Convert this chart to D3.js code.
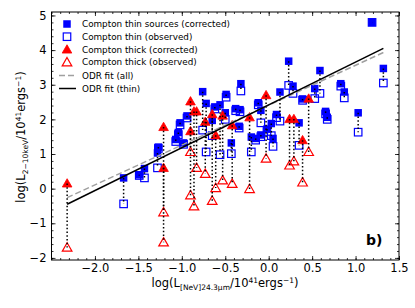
<!DOCTYPE html>
<html>
<head>
<meta charset="utf-8">
<script src="https://cdn.jsdelivr.net/npm/d3@7"></script>
<style>
  body { margin: 0; background: #fff; }
  svg { display: block; font-family: "DejaVu Sans", sans-serif; }
</style>
</head>
<body>
<div id="chart"></div>
<script>
// Compton thin sources: x, corrected and observed 2-10 keV luminosity
var thinX = [-1.67, -1.49, -1.43, -1.28, -1.27, -1.07, -1.04, -1.02, -0.98, -0.94,
  -0.76, -0.72, -0.65, -0.62, -0.56, -0.50, -0.49, -0.43, -0.38, -0.33,
  -0.32, -0.34, -0.12, -0.09, -0.20, -0.15, -0.09, 0.05, 0.03, 0.09,
  -0.02, 0.13, 0.23, 0.28, 0.35, 0.39, 0.53, 0.59, 0.655, 0.674,
  0.83, 0.87, 1.03, 1.19, 1.32];
var thinCorrected = [0.31, 0.40, 0.58, 1.03, 1.20, 1.42, 1.62, 1.90, 1.32, 2.10,
  2.80, 2.46, 1.97, 2.36, 2.42, 2.19, 2.72, 1.32, 2.31, 2.28,
  3.03, 1.80, 2.48, 2.26, 1.49, 1.45, 1.55, 1.45, 1.88, 2.14,
  1.72, 2.79, 3.68, 2.96, 1.90, 2.59, 2.89, 3.41, 2.23, 2.06,
  3.03, 2.79, 2.19, 4.80, 3.47];
var thinObserved = [-0.44, 0.38, 0.31, 0.60, 1.16, 1.36, 1.56, 1.84, 1.28, 2.04,
  1.69, 1.06, 1.53, 2.30, 0.98, 2.00, 2.64, 1.01, 2.25, 2.22,
  2.82, 1.75, 2.42, 1.90, 1.06, 1.40, 1.50, 1.22, 1.53, 2.05,
  1.65, 1.95, 2.98, 2.75, 1.25, 2.55, 2.60, 2.75, 2.16, 2.00,
  2.96, 2.62, 1.63, 4.80, 3.05];

// Compton thick sources
var thickX = [-2.32, -1.21, -1.21, -0.90, -0.90, -0.86, -0.83, -0.73, -0.65, -0.61,
  -0.53, -0.42, -0.22, -0.03, 0.24, 0.29, 0.39, 0.46];
var thickCorrected = [0.15, 1.78, 0.60, 2.52, 1.66, 2.23, 2.23, 1.93, 2.15, 1.54,
  2.11, 1.83, 2.06, 2.70, 2.01, 2.01, 1.40, 2.60];
var thickObserved = [-1.70, -0.68, -1.55, -0.19, 1.06, -0.51, 0.60, 0.43, -0.35, 0.02,
  0.24, 0.14, -0.01, 0.87, 0.67, 0.79, 0.18, 1.06];

// ODR fits, end points
var fitX = [-2.32, 1.32];
var fitAll = [-0.26, 3.93];
var fitThin = [-0.45, 4.05];

var xTicks = [-2.0, -1.5, -1.0, -0.5, 0.0, 0.5, 1.0, 1.5];
var yTicks = [-2, -1, 0, 1, 2, 3, 4, 5];

var legendLabels = [
  "Compton thin sources (corrected)",
  "Compton thin (observed)",
  "Compton thick (corrected)",
  "Compton thick (observed)",
  "ODR fit (all)",
  "ODR fit (thin)"
];

var width = 415;
var height = 308;
var blue = "#0000ff";
var red = "#ff0000";

function zip(xs, a, b) {
  return xs.map(function (x, i) {
    return { x: x, hi: a[i], lo: b[i] };
  });
}

draw();

function draw() {
  var thin = zip(thinX, thinCorrected, thinObserved);
  var thick = zip(thickX, thickCorrected, thickObserved);

  var svg = d3
    .select("#chart")
    .append("svg")
    .attr("width", width)
    .attr("height", height);

  var xScale = d3.scaleLinear().domain([-2.5, 1.5]).range([51.5, 399]);
  var yScale = d3.scaleLinear().domain([-2.06, 5.1]).range([260, 12]);

  var x0 = xScale.range()[0], x1 = xScale.range()[1];
  var y0 = yScale.range()[0], y1 = yScale.range()[1];

  // axes with inward ticks on all four sides
  var fmtX = function (d) { return d3.format(".1f")(d).replace("-", "\u2212"); };
  var fmtY = function (d) { return d3.format("d")(d).replace("-", "\u2212"); };
  var xMinor = d3.range(-2.5, 1.501, 0.1);
  var yMinor = d3.range(-2.0, 5.101, 0.2);

  function axisGroup(axis, tx, ty) {
    var g = svg.append("g")
      .attr("transform", "translate(" + tx + "," + ty + ")")
      .call(axis);
    g.select(".domain").remove();
    g.selectAll("line").attr("stroke", "#000").attr("stroke-width", 0.8);
    return g;
  }

  var gb = axisGroup(d3.axisBottom(xScale).tickValues(xTicks).tickSize(-4).tickPadding(4).tickFormat(fmtX), 0, y0);
  gb.selectAll("text").attr("font-size", "11.5px").attr("fill", "#000").attr("font-family", "DejaVu Sans");
  axisGroup(d3.axisBottom(xScale).tickValues(xMinor).tickSize(-2).tickFormat(""), 0, y0);
  axisGroup(d3.axisTop(xScale).tickValues(xTicks).tickSize(-4).tickFormat(""), 0, y1);
  axisGroup(d3.axisTop(xScale).tickValues(xMinor).tickSize(-2).tickFormat(""), 0, y1);

  var gl = axisGroup(d3.axisLeft(yScale).tickValues(yTicks).tickSize(-4).tickPadding(5).tickFormat(fmtY), x0, 0);
  gl.selectAll("text").attr("font-size", "11.5px").attr("fill", "#000").attr("font-family", "DejaVu Sans");
  axisGroup(d3.axisLeft(yScale).tickValues(yMinor).tickSize(-2).tickFormat(""), x0, 0);
  axisGroup(d3.axisRight(yScale).tickValues(yTicks).tickSize(-4).tickFormat(""), x1, 0);
  axisGroup(d3.axisRight(yScale).tickValues(yMinor).tickSize(-2).tickFormat(""), x1, 0);

  svg.append("rect")
    .attr("x", x0).attr("y", y1)
    .attr("width", x1 - x0).attr("height", y0 - y1)
    .attr("fill", "none").attr("stroke", "#000").attr("stroke-width", 1);

  var plot = svg.append("g");
  var sq = 7.5;
  var tri = d3.symbol().type(d3.symbolTriangle).size(40);

  // observed (open) markers
  plot.selectAll(".thinObs").data(thin).enter().append("rect")
    .attr("x", function (d) { return xScale(d.x) - sq / 2; })
    .attr("y", function (d) { return yScale(d.lo) - sq / 2; })
    .attr("width", sq).attr("height", sq)
    .attr("fill", "none").attr("stroke", blue).attr("stroke-width", 1.2);

  plot.selectAll(".thickObs").data(thick).enter().append("path")
    .attr("d", tri)
    .attr("transform", function (d) { return "translate(" + xScale(d.x) + "," + (yScale(d.lo) + 0.8) + ")"; })
    .attr("fill", "none").attr("stroke", red).attr("stroke-width", 1.2);

  // corrected (filled) markers
  plot.selectAll(".thinCor").data(thin).enter().append("rect")
    .attr("x", function (d) { return xScale(d.x) - sq / 2; })
    .attr("y", function (d) { return yScale(d.hi) - sq / 2; })
    .attr("width", sq).attr("height", sq)
    .attr("fill", blue);

  plot.selectAll(".thickCor").data(thick).enter().append("path")
    .attr("d", tri)
    .attr("transform", function (d) { return "translate(" + xScale(d.x) + "," + (yScale(d.hi) + 0.8) + ")"; })
    .attr("fill", red).attr("stroke", red).attr("stroke-width", 0.8);

  // dotted connectors between corrected and observed
  plot.selectAll(".link").data(thin.concat(thick)).enter().append("line")
    .attr("x1", function (d) { return xScale(d.x); })
    .attr("x2", function (d) { return xScale(d.x); })
    .attr("y1", function (d) { return yScale(d.hi); })
    .attr("y2", function (d) { return yScale(d.lo); })
    .attr("stroke", "#000").attr("stroke-width", 1.5)
    .attr("stroke-dasharray", "1.5,2.2");

  // ODR fit lines
  var line = d3.line()
    .x(function (d) { return xScale(d[0]); })
    .y(function (d) { return yScale(d[1]); });

  plot.append("path")
    .attr("d", line(fitX.map(function (x, i) { return [x, fitAll[i]]; })))
    .attr("fill", "none").attr("stroke", "#a0a0a0").attr("stroke-width", 1.5)
    .attr("stroke-dasharray", "6,3");

  plot.append("path")
    .attr("d", line(fitX.map(function (x, i) { return [x, fitThin[i]]; })))
    .attr("fill", "none").attr("stroke", "#000").attr("stroke-width", 1.5);

  // legend
  var legend = svg.append("g").attr("font-size", "8.8px");
  var rowY = [24, 36.7, 49.5, 62.3, 75.5, 88.5];
  legendLabels.forEach(function (label, i) {
    var ly = rowY[i];
    var mx = 67;
    if (i === 0) {
      legend.append("rect").attr("x", mx - sq / 2).attr("y", ly - sq / 2)
        .attr("width", sq).attr("height", sq).attr("fill", blue);
    } else if (i === 1) {
      legend.append("rect").attr("x", mx - sq / 2).attr("y", ly - sq / 2)
        .attr("width", sq).attr("height", sq)
        .attr("fill", "none").attr("stroke", blue).attr("stroke-width", 1.2);
    } else if (i === 2 || i === 3) {
      legend.append("path").attr("d", tri)
        .attr("transform", "translate(" + mx + "," + (ly + 0.8) + ")")
        .attr("fill", i === 2 ? red : "none").attr("stroke", red)
        .attr("stroke-width", i === 2 ? 0.8 : 1.2);
    } else {
      legend.append("line").attr("x1", 59).attr("x2", 76)
        .attr("y1", ly).attr("y2", ly)
        .attr("stroke", i === 4 ? "#a0a0a0" : "#000").attr("stroke-width", 1.5)
        .attr("stroke-dasharray", i === 4 ? "6,3" : null);
    }
    legend.append("text").attr("x", 82).attr("y", ly).attr("dy", "0.35em")
      .attr("fill", "#000").text(label);
  });

  // panel tag
  svg.append("text")
    .attr("x", 366).attr("y", 244.5)
    .attr("font-size", "14px").attr("font-weight", "bold")
    .text("b)");

  // axis titles
  var xt = svg.append("text")
    .attr("x", 225).attr("y", 287)
    .attr("text-anchor", "middle").attr("font-size", "11.5px");
  xt.append("tspan").text("log(L");
  xt.append("tspan").attr("font-size", "7.5px").attr("dy", 2.5).text("[NeV]24.3\u03bcm");
  xt.append("tspan").attr("dy", -2.5).text("/10");
  xt.append("tspan").attr("font-size", "7.5px").attr("dy", -4.5).text("41");
  xt.append("tspan").attr("dy", 4.5).text("ergs");
  xt.append("tspan").attr("font-size", "7.5px").attr("dy", -4.5).text("\u22121");
  xt.append("tspan").attr("dy", 4.5).text(")");

  var yt = svg.append("text")
    .attr("transform", "translate(25,137) rotate(-90)")
    .attr("text-anchor", "middle").attr("font-size", "11.5px");
  yt.append("tspan").text("log(L");
  yt.append("tspan").attr("font-size", "7.5px").attr("dy", 2.5).text("2\u221210keV");
  yt.append("tspan").attr("dy", -2.5).text("/10");
  yt.append("tspan").attr("font-size", "7.5px").attr("dy", -4.5).text("41");
  yt.append("tspan").attr("dy", 4.5).text("ergs");
  yt.append("tspan").attr("font-size", "7.5px").attr("dy", -4.5).text("\u22121");
  yt.append("tspan").attr("dy", 4.5).text(")");
}
</script>
</body>
</html>
